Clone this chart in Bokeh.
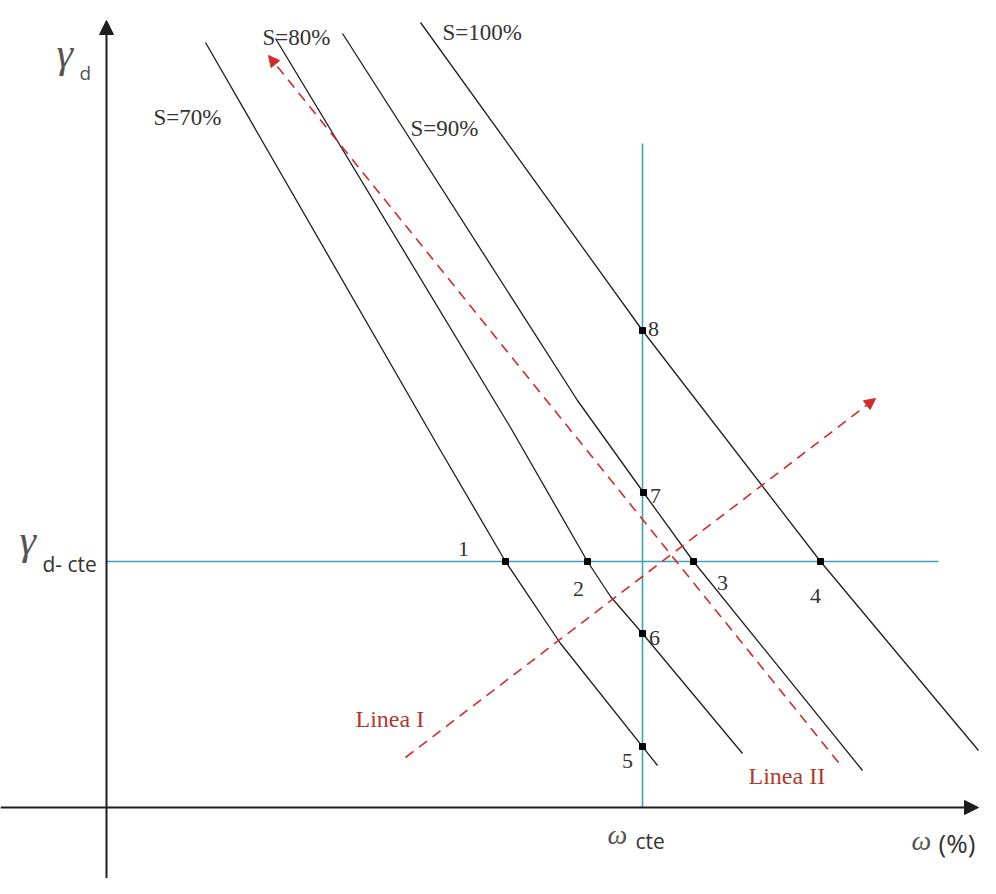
from bokeh.plotting import figure
from bokeh.models import Range1d, Arrow, NormalHead
from bokeh.core.properties import value
from bokeh.embed import file_html
from bokeh.resources import INLINE

# ---- Diagram data (schematic compaction diagram, w horizontal, gamma_d vertical; vertical grows downward) ----
# Saturation curves
S70_x = [205, 440, 505, 560, 657]
S70_y = [42, 450, 561, 643, 765]
S80_x = [275, 510, 587, 610, 642, 742]
S80_y = [38, 427, 561, 596, 633, 753]
S90_x = [342, 577, 643, 693, 862]
S90_y = [33, 400, 492, 561, 770]
S100_x = [420, 642, 820, 978]
S100_y = [22, 330, 561, 750]

# Reference lines (constant gamma_d and constant w)
gd_cte_y = 561
gd_cte_x = [106, 938]
w_cte_x = 642
w_cte_y = [143, 807]

# Axes
x_axis_y = 807
x_axis_x = [0, 978]
y_axis_x = 106
y_axis_y = [878, 20]

# Linea I and Linea II (start -> arrow end)
lineaI = [405, 757, 875, 398]
lineaII = [838, 762, 268, 55]

# Marked points
pt_x = [505, 587, 693, 820, 642, 642, 643, 642]
pt_y = [561, 561, 561, 561, 746, 633, 492, 330]
pt_lbl = ["1", "2", "3", "4", "5", "6", "7", "8"]
pt_lbl_x = [463, 578, 722, 815, 627, 654, 655, 653]
pt_lbl_y = [548, 588, 582, 595, 760, 637, 495, 328]

# Saturation labels
s_lbl = ["S=70%", "S=80%", "S=90%", "S=100%"]
s_lbl_x = [153, 262, 410, 442]
s_lbl_y = [117, 37, 128, 32]

BLACK = "#1e1e1e"
CYAN = "#3e9fb6"
RED = "#d42a2a"
LBL_RED = "#b03a2e"
GRAY = "#555555"
TXT = "#333333"

p = figure(width=980, height=878, output_backend="svg", toolbar_location=None,
           x_range=Range1d(0, 980), y_range=Range1d(878, 0), min_border=0)
p.axis.visible = False
p.grid.visible = False
p.outline_line_color = None
p.background_fill_color = "white"
p.border_fill_color = "white"

# cyan constant lines
p.line(gd_cte_x, [gd_cte_y, gd_cte_y], line_color=CYAN, line_width=1.6)
p.line([w_cte_x, w_cte_x], w_cte_y, line_color=CYAN, line_width=1.6)

# saturation curves
for xs, ys in [(S70_x, S70_y), (S80_x, S80_y), (S90_x, S90_y), (S100_x, S100_y)]:
    p.line(xs, ys, line_color=BLACK, line_width=1.3)

# axes with arrows
p.add_layout(Arrow(x_start=x_axis_x[0], y_start=x_axis_y, x_end=x_axis_x[1], y_end=x_axis_y,
                   line_color=BLACK, line_width=2,
                   end=NormalHead(size=14, fill_color=BLACK, line_color=BLACK)))
p.add_layout(Arrow(x_start=y_axis_x, y_start=y_axis_y[0], x_end=y_axis_x, y_end=y_axis_y[1],
                   line_color=BLACK, line_width=2,
                   end=NormalHead(size=14, fill_color=BLACK, line_color=BLACK)))

# Linea I / II dashed arrows
for (xs, ys, xe, ye) in [lineaI, lineaII]:
    p.add_layout(Arrow(x_start=xs, y_start=ys, x_end=xe, y_end=ye,
                       line_color=RED, line_width=1.6, line_dash="10 7",
                       end=NormalHead(size=11, fill_color=RED, line_color=RED)))

# points
p.scatter(pt_x, pt_y, marker="square", size=6, fill_color="black", line_color="black")

serif = value("Liberation Serif")
sans = value("Open Sans")

p.text(pt_lbl_x, pt_lbl_y, text=pt_lbl, text_font=serif, text_font_size="22px",
       text_color=TXT, text_align="center", text_baseline="alphabetic")
p.text(s_lbl_x, s_lbl_y, text=s_lbl, text_font=serif, text_font_size="23px",
       text_color=TXT, text_align="left", text_baseline="alphabetic")
p.text([355, 748], [718, 775], text=["Linea I", "Linea II"], text_font=serif,
       text_font_size="24px", text_color=LBL_RED, text_align="left", text_baseline="alphabetic")

# axis symbols
p.text([56, 19], [52, 539], text=["γ", "γ"], text_font=serif, text_font_style="italic",
       text_font_size="42px", text_color=GRAY, text_align="left", text_baseline="alphabetic")
p.text([79], [72], text=["d"], text_font=sans, text_font_size="19px",
       text_color=GRAY, text_align="left", text_baseline="alphabetic")
p.text([42], [563], text=["d- cte"], text_font=sans, text_font_size="21px",
       text_color=TXT, text_align="left", text_baseline="alphabetic")
p.text([607, 911], [834, 840], text=["ω", "ω"], text_font=serif, text_font_style="italic",
       text_font_size="28px", text_color=GRAY, text_align="left", text_baseline="alphabetic")
p.text([635], [840], text=["cte"], text_font=sans, text_font_size="21px",
       text_color=TXT, text_align="left", text_baseline="alphabetic")
p.text([938], [842], text=["(%)"], text_font=sans, text_font_size="26px",
       text_color=TXT, text_align="left", text_baseline="alphabetic")

open("out.html", "w").write(file_html(p, INLINE))
